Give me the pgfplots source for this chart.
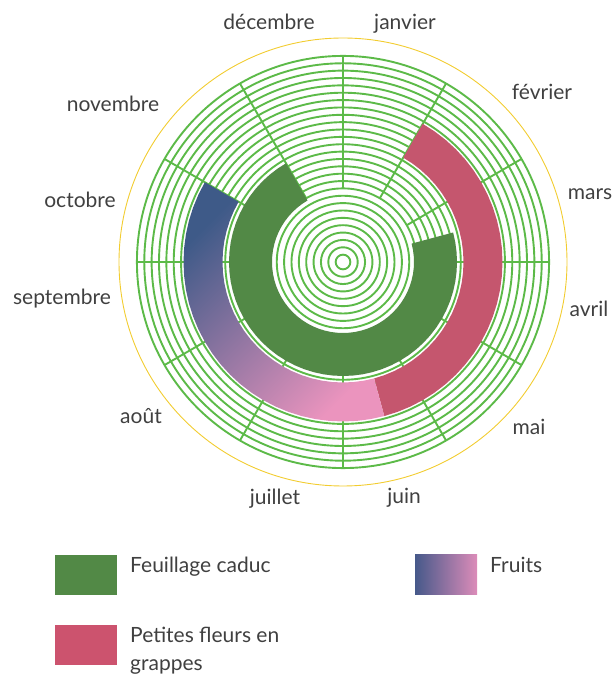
\documentclass[border=0pt]{standalone}
\usepackage{pgfplots}
\pgfplotsset{compat=1.18}
\usepgfplotslibrary{polar}
\usepackage{fontspec}
\setmainfont{Lato}
\definecolor{gridgreen}{RGB}{92,186,72}
\definecolor{foliage}{RGB}{82,137,70}
\definecolor{flower}{RGB}{197,86,110}
\definecolor{flowerleg}{RGB}{204,83,110}
\definecolor{fruitA}{RGB}{62,90,136}
\definecolor{fruitB}{RGB}{235,148,190}
\definecolor{fruitlA}{RGB}{70,89,138}
\definecolor{fruitlB}{RGB}{220,140,185}
\definecolor{ring}{RGB}{242,204,48}
\definecolor{txt}{RGB}{64,64,64}
\begin{document}
\begin{tikzpicture}[x=1pt,y=1pt]
\path[use as bounding box] (0,0) rectangle (615,674);
\begin{polaraxis}[
  at={(343pt,412pt)}, anchor=center,
  scale only axis, width=448pt, height=448pt,
  xmin=0, xmax=360, ymin=0, ymax=224,
  enlargelimits=false,
  x filter/.expression={90-x},
  xtick=\empty,
  ytick={7.36,14.72,...,206.1},
  yticklabels={},
  major tick length=0pt,
  xmajorgrids=false, ymajorgrids=true,
  grid style={draw=gridgreen, line width=1.9pt},
  separate axis lines,
  x axis line style={draw=ring, line width=0.9pt},
  y axis line style={draw=none},
]
% spokes (month boundaries)
\addplot[gridgreen, line width=1.9pt, no marks] coordinates {(0,73.6) (0,206)};
\addplot[gridgreen, line width=1.9pt, no marks] coordinates {(30,73.6) (30,206)};
\addplot[gridgreen, line width=1.9pt, no marks] coordinates {(60,73.6) (60,206)};
\addplot[gridgreen, line width=1.9pt, no marks] coordinates {(90,73.6) (90,206)};
\addplot[gridgreen, line width=1.9pt, no marks] coordinates {(120,73.6) (120,206)};
\addplot[gridgreen, line width=1.9pt, no marks] coordinates {(150,73.6) (150,206)};
\addplot[gridgreen, line width=1.9pt, no marks] coordinates {(180,73.6) (180,206)};
\addplot[gridgreen, line width=1.9pt, no marks] coordinates {(210,73.6) (210,206)};
\addplot[gridgreen, line width=1.9pt, no marks] coordinates {(240,73.6) (240,206)};
\addplot[gridgreen, line width=1.9pt, no marks] coordinates {(270,73.6) (270,206)};
\addplot[gridgreen, line width=1.9pt, no marks] coordinates {(300,73.6) (300,206)};
\addplot[gridgreen, line width=1.9pt, no marks] coordinates {(330,73.6) (330,206)};
% Feuillage caduc: mid-March to end of November
\addplot[fill=foliage, draw=none, no marks] coordinates {
(75,114) (80,114) (85,114) (90,114) (95,114) (100,114) (105,114) (110,114) (115,114) (120,114)
(125,114) (130,114) (135,114) (140,114) (145,114) (150,114) (155,114) (160,114) (165,114) (170,114)
(175,114) (180,114) (185,114) (190,114) (195,114) (200,114) (205,114) (210,114) (215,114) (220,114)
(225,114) (230,114) (235,114) (240,114) (245,114) (250,114) (255,114) (260,114) (265,114) (270,114)
(275,114) (280,114) (285,114) (290,114) (295,114) (300,114) (305,114) (310,114) (315,114) (320,114)
(325,114) (330,114)
(330,71) (325,71) (320,71) (315,71) (310,71) (305,71) (300,71) (295,71) (290,71) (285,71)
(280,71) (275,71) (270,71) (265,71) (260,71) (255,71) (250,71) (245,71) (240,71) (235,71)
(230,71) (225,71) (220,71) (215,71) (210,71) (205,71) (200,71) (195,71) (190,71) (185,71)
(180,71) (175,71) (170,71) (165,71) (160,71) (155,71) (150,71) (145,71) (140,71) (135,71)
(130,71) (125,71) (120,71) (115,71) (110,71) (105,71) (100,71) (95,71) (90,71) (85,71)
(80,71) (75,71)
} -- cycle;
% Petites fleurs en grappes: February to mid-June
\addplot[fill=flower, draw=none, no marks] coordinates {
(30,159.5) (35,159.5) (40,159.5) (45,159.5) (50,159.5) (55,159.5) (60,159.5) (65,159.5) (70,159.5) (75,159.5)
(80,159.5) (85,159.5) (90,159.5) (95,159.5) (100,159.5) (105,159.5) (110,159.5) (115,159.5) (120,159.5) (125,159.5)
(130,159.5) (135,159.5) (140,159.5) (145,159.5) (150,159.5) (155,159.5) (160,159.5) (165,159.5)
(165,120.5) (160,120.5) (155,120.5) (150,120.5) (145,120.5) (140,120.5) (135,120.5) (130,120.5) (125,120.5) (120,120.5)
(115,120.5) (110,120.5) (105,120.5) (100,120.5) (95,120.5) (90,120.5) (85,120.5) (80,120.5) (75,120.5) (70,120.5)
(65,120.5) (60,120.5) (55,120.5) (50,120.5) (45,120.5) (40,120.5) (35,120.5) (30,120.5)
} -- cycle;
% Fruits: mid-June to end of October
\addplot[draw=none, no marks, top color=fruitA, bottom color=fruitB, shading angle=45] coordinates {
(165,159.5) (170,159.5) (175,159.5) (180,159.5) (185,159.5) (190,159.5) (195,159.5) (200,159.5) (205,159.5) (210,159.5)
(215,159.5) (220,159.5) (225,159.5) (230,159.5) (235,159.5) (240,159.5) (245,159.5) (250,159.5) (255,159.5) (260,159.5)
(265,159.5) (270,159.5) (275,159.5) (280,159.5) (285,159.5) (290,159.5) (295,159.5) (300,159.5)
(300,120.5) (295,120.5) (290,120.5) (285,120.5) (280,120.5) (275,120.5) (270,120.5) (265,120.5) (260,120.5) (255,120.5)
(250,120.5) (245,120.5) (240,120.5) (235,120.5) (230,120.5) (225,120.5) (220,120.5) (215,120.5) (210,120.5) (205,120.5)
(200,120.5) (195,120.5) (190,120.5) (185,120.5) (180,120.5) (175,120.5) (170,120.5) (165,120.5)
} -- cycle;
\end{polaraxis}
% month labels
\begin{scope}[every node/.style={text=txt, font=\fontsize{21}{25}\selectfont, anchor=base, inner sep=0pt}]
\node at (269,644) {décembre};
\node at (405,644) {janvier};
\node at (542,574) {février};
\node at (590,474) {mars};
\node at (589,357) {avril};
\node at (529,239) {mai};
\node at (404,170) {juin};
\node at (275,169) {juillet};
\node at (141,250) {août};
\node at (62,369) {septembre};
\node at (80,466) {octobre};
\node at (113,562) {novembre};
\end{scope}
% legend
\begin{scope}[every node/.style={text=txt, font=\fontsize{21}{25}\selectfont, anchor=base west, inner sep=0pt}]
\fill[foliage] (55,79) rectangle (117,119);
\node at (130,101) {Feuillage caduc};
\shade[left color=fruitlA, right color=fruitlB] (415,79) rectangle (477,119);
\node at (490,101) {Fruits};
\fill[flowerleg] (55,9) rectangle (117,49);
\node at (130,31) {Petites fleurs en};
\node at (130,3) {grappes};
\end{scope}
\end{tikzpicture}
\end{document}
